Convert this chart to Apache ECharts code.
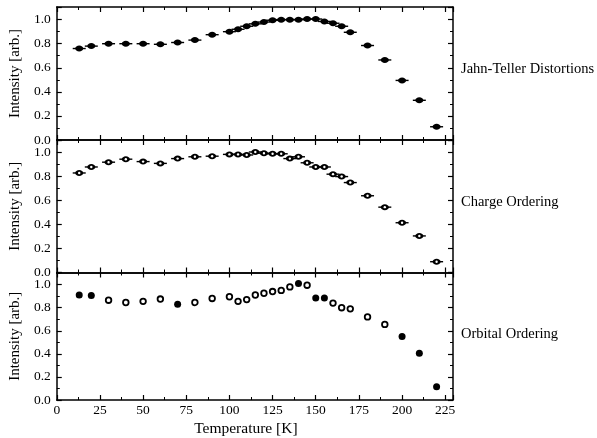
<!DOCTYPE html>
<html>
<head>
<meta charset="utf-8">
<script src="https://cdn.jsdelivr.net/npm/echarts@6/dist/echarts.min.js"></script>
<style>
  html, body { margin: 0; padding: 0; background: #fff; }
  #chart { width: 597px; height: 438px; }
</style>
</head>
<body>
<div id="chart"></div>
<script>
// Measurement temperatures (K), shared by all three panels
const temperatures = [13, 20, 30, 40, 50, 60, 70, 80, 90, 100, 105, 110, 115, 120, 125,
  130, 135, 140, 145, 150, 155, 160, 165, 170, 180, 190, 200, 210, 220];

// Normalised intensities for each superlattice reflection
const jahnTeller = [0.76, 0.78, 0.80, 0.80, 0.80, 0.795, 0.81, 0.83, 0.875, 0.90, 0.92, 0.945, 0.965, 0.98, 0.995,
  1.0, 1.0, 1.0, 1.005, 1.005, 0.985, 0.97, 0.945, 0.895, 0.785, 0.665, 0.495, 0.33, 0.11];
const chargeOrdering = [0.83, 0.88, 0.92, 0.945, 0.925, 0.91, 0.95, 0.965, 0.97, 0.985, 0.985, 0.98, 1.005, 0.995, 0.99,
  0.99, 0.95, 0.965, 0.915, 0.88, 0.88, 0.82, 0.80, 0.75, 0.64, 0.545, 0.415, 0.305, 0.09];
const orbitalOrdering = [0.91, 0.905, 0.865, 0.845, 0.855, 0.875, 0.83, 0.845, 0.88, 0.895, 0.855, 0.87, 0.91, 0.925, 0.94,
  0.95, 0.98, 1.01, 0.995, 0.885, 0.885, 0.84, 0.80, 0.79, 0.72, 0.655, 0.55, 0.405, 0.115];

const panelNames = ['Jahn-Teller Distortions', 'Charge Ordering', 'Orbital Ordering'];
const xTicks = { min: 0, max: 229.5, step: 25 };
const yTicks = { min: 0, max: 1.105, step: 0.2 };

// Temperatures whose orbital-ordering point is drawn as a solid dot
const solidOrbital = [13, 20, 70, 140, 150, 155, 200, 210, 220];

const chart = echarts.init(document.getElementById('chart'));
const FONT = '"Liberation Serif", "DejaVu Serif", serif';
const INK = '#000';

const gridBoxes = [
  { left: 56, width: 397, top: 7, height: 133 },
  { left: 56, width: 397, top: 140, height: 132.5 },
  { left: 56, width: 397, top: 272.5, height: 132.5 }
];

function isMultiple(v, step) {
  const q = v / step;
  return Math.abs(q - Math.round(q)) < 1e-6;
}

const tickCommon = {
  axisLine: { show: true, onZero: false, lineStyle: { color: INK, width: 1.5 } },
  axisTick: { show: true, inside: true, length: 5, lineStyle: { color: INK, width: 1.2 } },
  minorTick: { show: true, splitNumber: 2, length: 3, lineStyle: { color: INK, width: 1 } },
  splitLine: { show: false }
};

const xAxes = [], yAxes = [];
gridBoxes.forEach((g, i) => {
  const last = i === gridBoxes.length - 1;
  xAxes.push(Object.assign({
    type: 'value', gridIndex: i, position: 'bottom',
    min: xTicks.min, max: xTicks.max, interval: xTicks.step,
    axisLabel: {
      show: last, margin: 3, color: INK, fontFamily: FONT, fontSize: 13.5, showMaxLabel: false,
      formatter: v => isMultiple(v, xTicks.step) ? String(v) : ''
    },
    name: last ? 'Temperature [K]' : '',
    nameLocation: 'middle', nameGap: 21,
    nameTextStyle: { color: INK, fontFamily: FONT, fontSize: 15.5, padding: [0, 18, 0, 0] }
  }, tickCommon));
  xAxes.push(Object.assign({
    type: 'value', gridIndex: i, position: 'top',
    min: xTicks.min, max: xTicks.max, interval: xTicks.step,
    axisLabel: { show: false }
  }, tickCommon));
  yAxes.push(Object.assign({
    type: 'value', gridIndex: i, position: 'left',
    min: yTicks.min, max: yTicks.max, interval: yTicks.step,
    axisLabel: {
      show: true, margin: 6, color: INK, fontFamily: FONT, fontSize: 13.5, showMaxLabel: false,
      formatter: v => isMultiple(v, yTicks.step) ? v.toFixed(1) : ''
    },
    name: 'Intensity [arb.]', nameLocation: 'middle', nameGap: 27, nameRotate: 90,
    nameTextStyle: { color: INK, fontFamily: FONT, fontSize: 15 }
  }, tickCommon));
  yAxes.push(Object.assign({
    type: 'value', gridIndex: i, position: 'right',
    min: yTicks.min, max: yTicks.max, interval: yTicks.step,
    axisLabel: { show: false }
  }, tickCommon));
});

// Marker with a short horizontal error bar (upper two panels)
function barredMarker(hollow) {
  return function (params, api) {
    const p = api.coord([api.value(0), api.value(1)]);
    const children = [
      { type: 'line', shape: { x1: p[0] - 6.5, y1: p[1], x2: p[0] + 6.5, y2: p[1] },
        style: { stroke: INK, lineWidth: 1.4 } },
      { type: 'ellipse', shape: { cx: p[0], cy: p[1], rx: 4, ry: 3 },
        style: { fill: INK } }
    ];
    if (hollow) {
      children.push({ type: 'circle', shape: { cx: p[0], cy: p[1], r: 1.2 }, style: { fill: '#fff' } });
    }
    return { type: 'group', children };
  };
}

// Plain round marker, solid or open (lower panel)
function roundMarker(params, api) {
  const t = api.value(0);
  const p = api.coord([t, api.value(1)]);
  const solid = solidOrbital.indexOf(t) >= 0;
  return {
    type: 'circle',
    shape: { cx: p[0], cy: p[1], r: solid ? 3.5 : 2.8 },
    style: solid ? { fill: INK } : { fill: '#fff', stroke: INK, lineWidth: 1.8 }
  };
}

const pairs = arr => temperatures.map((t, k) => [t, arr[k]]);

const series = [
  { type: 'custom', xAxisIndex: 0, yAxisIndex: 0, data: pairs(jahnTeller), renderItem: barredMarker(false), clip: false },
  { type: 'custom', xAxisIndex: 2, yAxisIndex: 2, data: pairs(chargeOrdering), renderItem: barredMarker(true), clip: false },
  { type: 'custom', xAxisIndex: 4, yAxisIndex: 4, data: pairs(orbitalOrdering), renderItem: roundMarker, clip: false }
];

const labelY = [71, 204, 336];
const graphic = panelNames.map((name, i) => ({
  type: 'text', left: 461, top: labelY[i] - 9,
  style: { text: name, fill: INK, font: '14.5px ' + FONT }
}));

chart.setOption({
  backgroundColor: '#fff',
  animation: false,
  grid: gridBoxes,
  xAxis: xAxes,
  yAxis: yAxes,
  series,
  graphic
});
</script>
</body>
</html>
